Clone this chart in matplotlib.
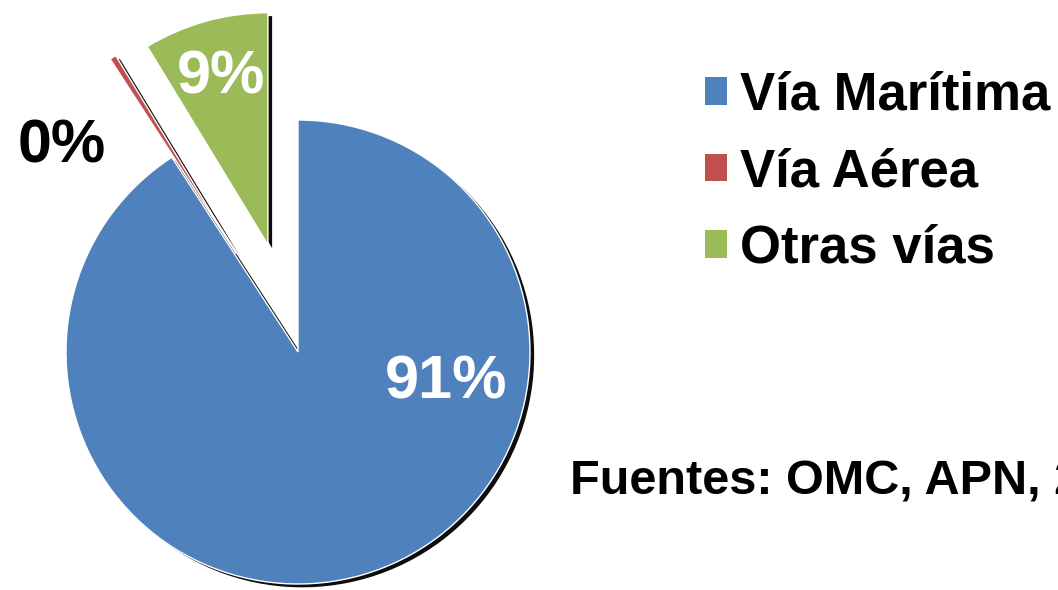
import matplotlib
matplotlib.use("Agg")
import matplotlib.pyplot as plt
import matplotlib.patheffects as pe

categories = ["Vía Marítima", "Vía Aérea", "Otras vías"]
values = [90.85, 0.45, 8.7]
labels_pct = ["91%", "0%", "9%"]
colors = ["#4F81BD", "#C0504D", "#9BBB59"]
explode_frac = [0.0, 0.5, 0.48]
source_text = "Fuentes: OMC, APN, 2012"

W, H = 1058, 590
fig = plt.figure(figsize=(W / 100, H / 100), dpi=100)
ax = fig.add_axes([0, 0, 1, 1])

cx, cy, r = 298, H - 352, 232
wedges, _ = ax.pie(values, colors=colors, startangle=90, counterclock=False,
                   explode=[e * r for e in explode_frac], center=(cx, cy), radius=r,
                   wedgeprops=dict(edgecolor="white", linewidth=1.0))
for w in wedges:
    w.set_path_effects([pe.SimplePatchShadow(offset=(3.0, -2.4), shadow_rgbFace="black", alpha=0.95),
                        pe.Normal()])

ax.set_xlim(0, W)
ax.set_ylim(0, H)
ax.set_aspect("equal")
ax.axis("off")

font = "Liberation Sans"
ax.text(446, H - 383, labels_pct[0], color="white", fontsize=44, fontweight="bold",
        family=font, ha="center", va="center")
ax.text(62, H - 147, labels_pct[1], color="black", fontsize=44, fontweight="bold",
        family=font, ha="center", va="center")
ax.text(221, H - 78, labels_pct[2], color="white", fontsize=44, fontweight="bold",
        family=font, ha="center", va="center")

leg = fig.legend(wedges, categories, loc="upper left", bbox_to_anchor=(705 / W, 1 - 71 / H),
                 frameon=False, prop=dict(family=font, weight="bold", size=38),
                 handlelength=0.42, handleheight=0.42, handletextpad=0.25,
                 labelspacing=0.5, borderaxespad=0, borderpad=0)
for h in leg.legend_handles:
    h.set_path_effects([])
    h.set_edgecolor("none")

ax.text(570, H - 482, source_text, color="black", fontsize=35, fontweight="bold",
        family=font, ha="left", va="center")

fig.savefig("out.png", dpi=100)
